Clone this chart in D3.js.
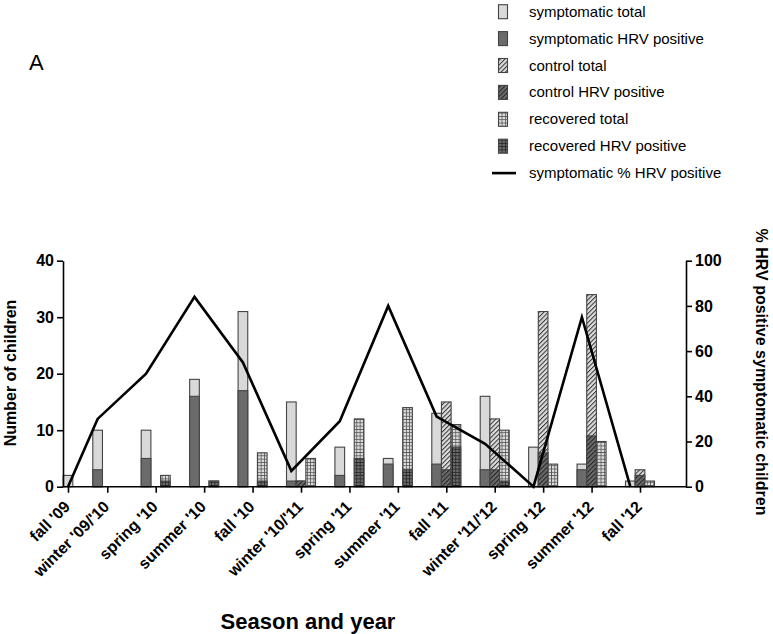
<!DOCTYPE html>
<html>
<head>
<meta charset="utf-8">
<script src="https://d3js.org/d3.v7.min.js"></script>
<style>
    body { margin: 0; background: #fff; }
    text { font-family: Arial, "Liberation Sans", sans-serif; fill: #000; }
    .bold { font-weight: bold; }
</style>
</head>
<body>
<svg id="chart" width="773" height="634"></svg>
<script>
    const seasons = ["fall '09", "winter '09/'10", "spring '10", "summer '10", "fall '10", "winter '10/'11",
        "spring '11", "summer '11", "fall '11", "winter '11/'12", "spring '12", "summer '12", "fall '12"]

    const symptomaticTotal = [2, 10, 10, 19, 31, 15, 7, 5, 13, 16, 7, 4, 1]
    const symptomaticHRV = [0, 3, 5, 16, 17, 1, 2, 4, 4, 3, 0, 3, 0]
    const controlTotal = [null, null, null, null, null, 1, null, null, 15, 12, 31, 34, 3]
    const controlHRV = [null, null, null, null, null, 1, null, null, 3, 3, 6, 9, 2]
    const recoveredTotal = [null, null, 2, 1, 6, 5, 12, 14, 11, 10, 4, 8, 1]
    const recoveredHRV = [null, null, 1, 1, 1, 0, 5, 3, 7, 1, 0, 0, 0]
    const pctHRV = [0, 30, 50, 84, 55, 7, 29, 80, 31, 19, 0, 75, 0]

    const leftTicks = [0, 10, 20, 30, 40]
    const rightTicks = [0, 20, 40, 60, 80, 100]

    const legendItems = [
        { label: "symptomatic total", fill: "#d9d9d9" },
        { label: "symptomatic HRV positive", fill: "#6b6b6b" },
        { label: "control total", fill: "url(#hatchLight)" },
        { label: "control HRV positive", fill: "url(#hatchDark)" },
        { label: "recovered total", fill: "url(#gridLight)" },
        { label: "recovered HRV positive", fill: "url(#gridDark)" },
        { label: "symptomatic % HRV positive", line: true }
    ]

    const svg = d3.select("#chart")
    const axisLeftX = 63, axisRightX = 686, baseY = 486.7, topY = 260.7

    // patterns
    const defs = svg.append("defs")
    let hatch = (id, bg, ink) => {
        let p = defs.append("pattern").attr("id", id).attr("patternUnits", "userSpaceOnUse")
            .attr("width", 3.2).attr("height", 3.2).attr("patternTransform", "rotate(45)")
        p.append("rect").attr("width", 3.2).attr("height", 3.2).attr("fill", bg)
        p.append("line").attr("x1", 0.5).attr("y1", 0).attr("x2", 0.5).attr("y2", 3.2)
            .attr("stroke", ink).attr("stroke-width", 1)
    }
    let grid = (id, bg, ink) => {
        let p = defs.append("pattern").attr("id", id).attr("patternUnits", "userSpaceOnUse")
            .attr("width", 3.3).attr("height", 3.3)
        p.append("rect").attr("width", 3.3).attr("height", 3.3).attr("fill", bg)
        p.append("path").attr("d", "M0,0.4H3.3M0.4,0V3.3").attr("stroke", ink).attr("stroke-width", 0.8)
    }
    hatch("hatchLight", "#dcdcdc", "#333")
    hatch("hatchDark", "#6b6b6b", "#222")
    grid("gridLight", "#dcdcdc", "#555")
    grid("gridDark", "#6b6b6b", "#222")

    // scales
    let yL = d3.scaleLinear().domain([0, 40]).range([baseY, topY])
    let yR = d3.scaleLinear().domain([0, 100]).range([baseY, topY])
    let x = d3.scaleLinear().domain([0, 1, seasons.length - 1]).range([68, 107.3, 640])
    let slot = d3.scaleBand().domain(["symptomatic", "control", "recovered"]).range([-14.5, 14.5])
    let bw = slot.bandwidth()

    // first season only has one bar, it sits on its tick
    let barX = (i, key) => x(i) + (i === 0 ? slot("control") : slot(key))

    let series = [
        { key: "symptomatic", total: symptomaticTotal, hrv: symptomaticHRV, light: "#d9d9d9", dark: "#6b6b6b" },
        { key: "control", total: controlTotal, hrv: controlHRV, light: "url(#hatchLight)", dark: "url(#hatchDark)" },
        { key: "recovered", total: recoveredTotal, hrv: recoveredHRV, light: "url(#gridLight)", dark: "url(#gridDark)" }
    ]

    series.forEach(s => {
        let rows = seasons.map((d, i) => ({ i: i, total: s.total[i], hrv: s.hrv[i] })).filter(d => d.total !== null)
        let g = svg.append("g")
        g.selectAll("rect.total").data(rows).enter().append("rect")
            .attr("x", d => barX(d.i, s.key)).attr("width", bw)
            .attr("y", d => yL(d.total)).attr("height", d => baseY - yL(d.total))
            .attr("fill", s.light).attr("stroke", "#444").attr("stroke-width", 1.1)
        g.selectAll("rect.hrv").data(rows.filter(d => d.hrv > 0)).enter().append("rect")
            .attr("x", d => barX(d.i, s.key)).attr("width", bw)
            .attr("y", d => yL(d.hrv)).attr("height", d => baseY - yL(d.hrv))
            .attr("fill", s.dark).attr("stroke", "#444").attr("stroke-width", 1.1)
    })

    // % line
    let line = d3.line().x((d, i) => barX(i, "symptomatic") + bw / 2).y(d => yR(d))
    svg.append("path").datum(pctHRV).attr("d", line)
        .attr("fill", "none").attr("stroke", "#000").attr("stroke-width", 2.6).attr("stroke-linejoin", "miter")

    // axes
    let axL = svg.append("g").attr("transform", `translate(${axisLeftX},0)`)
        .call(d3.axisLeft(yL).tickValues(leftTicks).tickSize(6).tickSizeOuter(0).tickPadding(3))
    let axR = svg.append("g").attr("transform", `translate(${axisRightX},0)`)
        .call(d3.axisRight(yR).tickValues(rightTicks).tickSize(6).tickSizeOuter(0).tickPadding(3))
    let axB = svg.append("g").attr("transform", `translate(0,${baseY})`)
        .call(d3.axisBottom(x).tickValues(d3.range(seasons.length)).tickSize(6).tickSizeOuter(0).tickFormat(""))
    axB.select(".domain").attr("d", `M${axisLeftX},0H${axisRightX}`)
    ;[axL, axR, axB].forEach(a => {
        a.selectAll("path, line").attr("stroke", "#000").attr("stroke-width", 1.6)
        a.selectAll("text").attr("class", "bold").style("font-size", "16px").attr("font-family", null)
    })

    svg.append("g").selectAll("text").data(seasons).enter().append("text")
        .attr("class", "bold").style("font-size", "16px")
        .attr("text-anchor", "end")
        .attr("transform", (d, i) => `translate(${x(i) + 3},${baseY + 21}) rotate(-45)`)
        .text(d => d)

    // titles
    svg.append("text").attr("class", "bold").style("font-size", "16px")
        .attr("text-anchor", "middle").attr("transform", "translate(16,373) rotate(-90)")
        .text("Number of children")
    svg.append("text").attr("class", "bold").style("font-size", "16px")
        .attr("text-anchor", "middle").attr("transform", "translate(756,372) rotate(90)")
        .text("% HRV positive symptomatic children")
    svg.append("text").attr("class", "bold").style("font-size", "22px")
        .attr("text-anchor", "middle").attr("x", 308).attr("y", 629)
        .text("Season and year")
    svg.append("text").style("font-size", "22px").attr("x", 29).attr("y", 70).text("A")

    // legend
    let leg = svg.append("g").selectAll("g").data(legendItems).enter().append("g")
        .attr("transform", (d, i) => `translate(0,${11.7 + i * 26.9})`)
    leg.filter(d => !d.line).append("rect")
        .attr("x", 498.5).attr("y", -7).attr("width", 9).attr("height", 14)
        .attr("fill", d => d.fill).attr("stroke", "#444").attr("stroke-width", 1.1)
    leg.filter(d => d.line).append("line")
        .attr("x1", 492).attr("x2", 516).attr("stroke", "#000").attr("stroke-width", 2.6)
    leg.append("text").attr("x", 529).attr("y", 5).style("font-size", "15px").text(d => d.label)
</script>
</body>
</html>
